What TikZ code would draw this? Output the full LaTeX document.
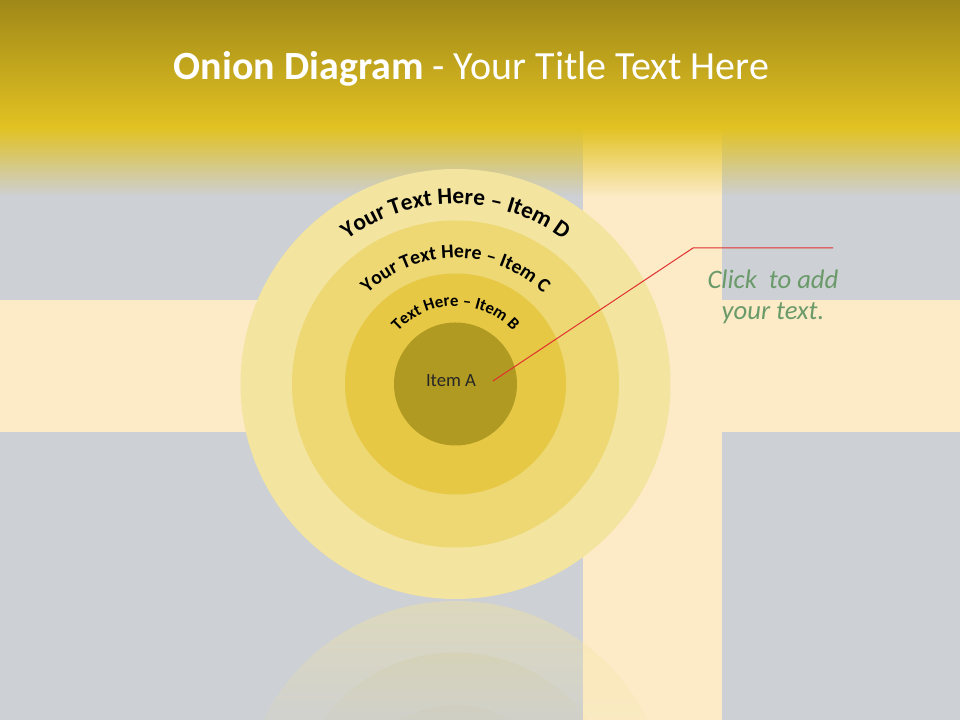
\documentclass[tikz,border=0pt]{standalone}
\usepackage{fontspec}
\setmainfont{Carlito}
\usetikzlibrary{decorations.text,fadings,calc}
\definecolor{bggrey}{HTML}{CDD0D4}
\definecolor{band}{HTML}{FCEBC6}
\definecolor{gtop}{HTML}{A08818}
\definecolor{gbot}{HTML}{E2C222}
\definecolor{cD}{HTML}{F3E4A0}
\definecolor{cC}{HTML}{EDD873}
\definecolor{cB}{HTML}{E6C844}
\definecolor{cA}{HTML}{B09A22}
\definecolor{calloutred}{HTML}{E03030}
\definecolor{notegreen}{HTML}{6A9A6A}
\tikzfading[name=fadedown, top color=transparent!0, bottom color=transparent!100]
\begin{tikzfadingfrompicture}[name=reflfade,x=0.75pt,y=0.75pt]
\shade[top color=transparent!57,bottom color=transparent!90] (0,0) rectangle (960,120);
\end{tikzfadingfrompicture}
\begin{document}
\begin{tikzpicture}[x=0.75pt,y=0.75pt,
  ring/.style={circle, inner sep=0pt, draw=none},
  reflection/.style={even odd rule, path fading=reflfade, fit fading=false, fading transform={shift={(480,60)}}},
  arctext/.style={decorate, decoration={text along path, text align=center, text={#1}}},
  callout/.style={draw=calloutred, line width=0.75pt},
  titletext/.style={text=white, font=\fontsize{30pt}{32pt}\selectfont, inner sep=0pt},
  notetext/.style={text=notegreen, align=center, font=\itshape\fontsize{20pt}{23.5pt}\selectfont, inner sep=0pt}]
\useasboundingbox (0,0) rectangle (960,720);
\fill[bggrey] (0,0) rectangle (960,720);
\fill[band] (0,288) rectangle (960,420);
\fill[band] (583,0) rectangle (722,720);
% reflection
\coordinate (rc) at (455.5,-96);
\fill[cD, reflection] (rc) circle (215) (rc) circle (163.5);
\fill[cC, reflection] (rc) circle (163.5) (rc) circle (110.5);
\fill[cB, reflection] (rc) circle (110.5) (rc) circle (61.5);
\fill[cA, reflection] (rc) circle (61.5);
% banner
\shade[top color=gtop,bottom color=gbot] (0,592) rectangle (960,720);
\fill[gbot, path fading=fadedown] (0,524) rectangle (960,592.5);
\node[titletext, anchor=base] (title) at (471.5,640) {\textbf{Onion Diagram} - Your Title Text Here};
% onion
\coordinate (c) at (455.5,336);
\node[ring, fill=cD, minimum size=322.5pt] (D) at (c) {};
\node[ring, fill=cC, minimum size=245.25pt] (C) at (c) {};
\node[ring, fill=cB, minimum size=165.75pt] (B) at (c) {};
\node[ring, fill=cA, minimum size=92.25pt] (A) at (c) {};
\node[font=\fontsize{14pt}{16pt}\selectfont, text=black!85, inner sep=0pt] (itemA) at (451,339) {Item A};
\path[arctext={|\bfseries\fontsize{17.5pt}{20pt}\selectfont|Your Text Here – Item D}] ($(c)+(170:180)$) arc (170:10:180);
\path[arctext={|\bfseries\fontsize{14.8pt}{17pt}\selectfont|Your Text Here – Item C}] ($(c)+(170:126)$) arc (170:10:126);
\path[arctext={|\bfseries\fontsize{12.6pt}{15pt}\selectfont|Text Here – Item B}] ($(c)+(178:78)$) arc (178:2:78);
% callout
\coordinate (callA) at (493,339);
\coordinate (elbow) at (693,472);
\coordinate (callend) at (833,472);
\draw[callout] (callA) -- (elbow) -- (callend);
\node[notetext] (note) at (773,423) {Click\ \ to add\\your text.};
\end{tikzpicture}
\end{document}
